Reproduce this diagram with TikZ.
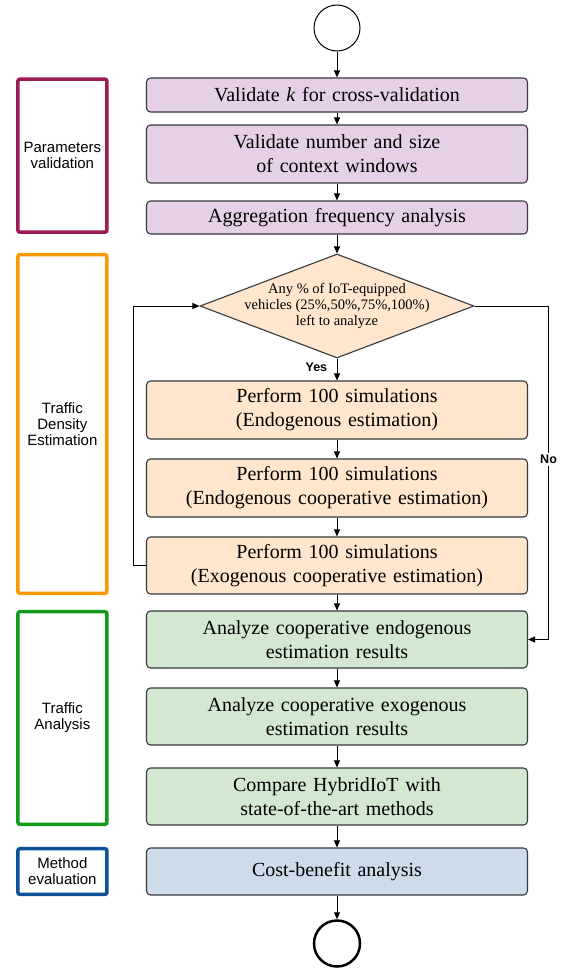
\documentclass[tikz,border=0pt]{standalone}
\usepackage{fontspec}
\setmainfont{Liberation Serif}
\setsansfont{Liberation Sans}
\usepackage{xcolor}
\usepackage{tikz}
\usetikzlibrary{shapes.geometric}
\usetikzlibrary{arrows.meta}

\definecolor{boxline}{HTML}{36393D}
\definecolor{purplefill}{HTML}{E6D0E7}
\definecolor{orangefill}{HTML}{FFE6CC}
\definecolor{greenfill}{HTML}{D2E8D0}
\definecolor{bluefill}{HTML}{CCDCEA}
\definecolor{purpleline}{HTML}{9C1A56}
\definecolor{orangeline}{HTML}{FF9900}
\definecolor{greenline}{HTML}{139A1A}
\definecolor{blueline}{HTML}{0E5299}

\begin{document}
\begin{tikzpicture}[x=1pt,y=-1pt,line width=1pt,>={Triangle[length=7pt,width=6pt]},
	flow box/.style={rectangle, rounded corners=4pt, draw=boxline, line width=1.1pt, minimum width=381pt, text width=370pt, align=center, inner sep=0pt, font=\fontsize{20}{24}\selectfont},
	decision/.style={diamond, draw=boxline, fill=orangefill, line width=1.1pt, minimum width=274pt, minimum height=104pt, inner sep=0pt},
	dec text/.style={align=center, inner sep=0pt, font=\fontsize{14.5}{15.7}\selectfont},
	group box/.style={rectangle, rounded corners=2pt, line width=3.5pt, minimum width=89pt, align=center, font=\sffamily\fontsize{15}{16}\selectfont},
	yes no/.style={font=\sffamily\bfseries\fontsize{12.5}{14}\selectfont}]
	\useasboundingbox (0,0) rectangle (567,969);
			% Nodes
			\node[circle, draw, minimum size=46pt, inner sep=0pt] (start) at (337,28) {};
			\node[flow box, fill=purplefill, minimum height=34pt] (k) at (337,95) {Validate \textit{k} for cross-validation};
			\node[flow box, fill=purplefill, minimum height=58pt] (win) at (337,154) {Validate number and size\\of context windows};
			\node[flow box, fill=purplefill, minimum height=33pt] (agg) at (337,217.5) {Aggregation frequency analysis};
			\node[decision] (dec) at (337,306) {};
			\node[dec text] (q) at (dec.center) {Any \% of IoT-equipped\\vehicles (25\%,50\%,75\%,100\%)\\left to analyze};
			\node[flow box, fill=orangefill, minimum height=58pt] (sim1) at (337,410) {Perform 100 simulations\\(Endogenous estimation)};
			\node[flow box, fill=orangefill, minimum height=58pt] (sim2) at (337,488) {Perform 100 simulations\\(Endogenous cooperative estimation)};
			\node[flow box, fill=orangefill, minimum height=57pt] (sim3) at (337,565.5) {Perform 100 simulations\\(Exogenous cooperative estimation)};
			\node[flow box, fill=greenfill, minimum height=57pt] (res1) at (337,639.5) {Analyze cooperative endogenous\\estimation results};
			\node[flow box, fill=greenfill, minimum height=57pt] (res2) at (337,716.5) {Analyze cooperative exogenous\\estimation results};
			\node[flow box, fill=greenfill, minimum height=57pt] (cmp) at (337,796.5) {Compare HybridIoT with\\state-of-the-art methods};
			\node[flow box, fill=bluefill, minimum height=47pt] (cost) at (337,871.5) {Cost-benefit analysis};
			\node[circle, draw, line width=2.5pt, minimum size=46pt, inner sep=0pt] (end) at (337,943.5) {};
			
			% Phases
			\node[group box, draw=purpleline, minimum height=153pt] (param) at (62.4,155.7) {Parameters\\validation};
			\node[group box, draw=orangeline, minimum height=338.6pt] (dens) at (62.4,424) {Traffic\\Density\\Estimation};
			\node[group box, draw=greenline, minimum height=212.6pt] (anal) at (62.4,718) {Traffic\\Analysis};
			\node[group box, draw=blueline, minimum height=45.6pt] (meth) at (62.4,871.5) {Method\\evaluation};
			
			
			\path[->]
			(start) edge (k)
			(k) edge (win)
			(win) edge (agg)
			(agg) edge (dec)
			(dec) edge node[left, yes no, xshift=-6pt, yshift=2pt] {Yes} (sim1)
			(sim1) edge (sim2)
			(sim2) edge (sim3)
			(sim3) edge (res1)
			(res1) edge (res2)
			(res2) edge (cmp)
			(cmp) edge (cost)
			(cost) edge (end);
			
			\draw[->] (sim3.west) -- ++(-12,0) |- (dec.west);
			\draw[->] (dec.east) -- ++(74,0) |- node[pos=0.23, fill=white, yes no, inner sep=2pt] {No} (res1.east);
			
		\end{tikzpicture}
\end{document}
